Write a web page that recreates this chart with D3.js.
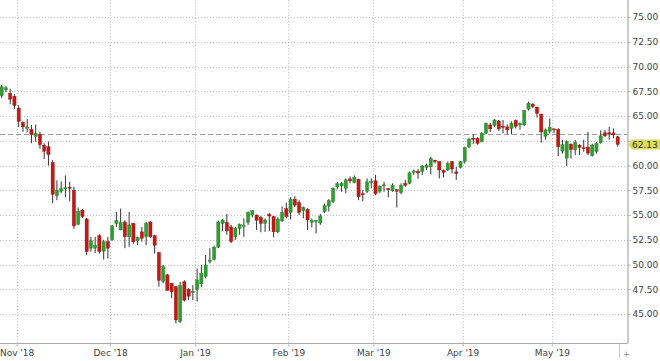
<!DOCTYPE html>
<html><head><meta charset="utf-8">
<script src="https://cdn.jsdelivr.net/npm/d3@7"></script>
<style>
html,body{margin:0;padding:0;background:#fff;}
svg{display:block;}
text{font-family:"DejaVu Sans",Verdana,sans-serif;}
</style></head>
<body><svg id="c" width="660" height="361"></svg>
<script>
const open = [67.05,67.65,67.3,67.0,65.8,64.35,63.75,63.65,62.95,63.15,62.05,61.9,60.3,56.95,57.4,57.7,57.8,57.5,54.05,55.5,54.6,51.65,51.65,52.9,51.35,52.3,52.5,54.15,53.5,54.3,52.8,54.15,52.4,53.3,52.8,54.3,52.9,51.2,48.3,48.95,48.1,47.75,44.25,48.25,47.5,47.15,47.45,48.05,48.8,50.3,50.5,51.75,54.15,54.25,53.8,52.8,53.65,53.85,54.25,55.0,55.0,54.75,54.15,55.05,54.85,53.3,54.4,55.65,55.25,56.6,56.25,55.45,55.55,54.25,54.35,54.2,55.35,55.9,56.35,57.85,57.95,57.7,58.65,58.3,58.6,57.15,57.4,58.35,58.45,57.4,58.0,57.65,57.45,57.55,57.25,58.2,58.2,59.3,59.4,59.4,59.8,59.9,60.55,60.4,59.5,59.55,60.4,59.35,59.8,60.4,61.9,62.75,62.75,62.4,63.25,64.1,64.05,64.5,63.95,63.9,63.75,64.55,64.1,64.1,65.7,66.2,65.9,65.2,62.95,63.45,63.7,63.65,61.45,60.75,62.15,61.6,62.05,61.8,61.85,61.0,61.4,62.3,63.3,63.3,63.3,62.9];
const high = [68.15,68.05,67.75,67.2,66.1,64.45,64.7,64.1,64.15,63.4,62.25,62.4,60.55,58.5,58.4,59.0,58.35,57.85,55.75,55.6,54.7,52.8,52.8,53.05,52.5,52.8,54.0,55.3,55.65,54.45,55.3,54.2,52.8,53.8,54.3,54.35,53.0,51.25,49.95,49.05,48.15,47.8,48.25,48.4,47.6,47.9,49.6,49.95,50.96,51.65,51.9,54.45,54.6,55.1,54.0,53.82,54.15,54.65,55.35,55.5,55.05,54.9,54.65,55.2,54.9,54.75,55.85,56.25,56.8,56.9,56.5,55.85,55.7,54.65,54.5,55.1,56.15,56.6,57.8,58.35,58.35,58.7,58.9,59.0,58.65,57.5,58.7,58.7,59.05,58.0,58.35,57.7,58.2,57.6,58.2,58.55,59.4,59.6,59.65,60.05,60.2,60.9,60.55,60.4,59.6,60.4,60.45,59.85,60.45,61.9,62.8,63.15,62.85,63.35,64.35,64.3,64.7,64.6,64.6,64.15,64.45,64.65,64.35,65.6,66.45,66.3,65.95,65.2,63.75,64.75,63.75,63.75,62.6,62.55,62.25,62.6,62.15,62.6,63.4,62.2,62.4,63.55,63.6,63.9,63.75,63.0];
const low = [66.8,67.4,66.2,65.7,63.9,63.4,63.35,62.25,62.4,61.7,60.65,60.0,56.2,56.5,57.2,56.8,56.4,53.6,54.0,54.7,50.95,51.3,51.15,51.1,50.5,50.6,52.4,53.8,53.45,51.65,51.8,52.1,51.97,52.3,51.97,52.65,51.1,47.75,48.1,47.35,46.6,44.05,44.1,46.25,46.4,46.4,46.25,47.75,48.6,50.1,50.4,51.65,53.35,53.0,52.15,52.48,53.0,52.8,54.0,54.75,53.5,53.25,53.3,53.35,52.75,53.15,54.3,54.65,54.55,55.8,55.0,54.66,53.5,53.75,53.15,54.0,55.2,55.35,56.2,57.6,57.35,57.2,58.2,58.2,56.5,56.4,57.2,57.7,57.0,57.2,57.35,56.8,57.35,55.75,57.1,57.85,58.1,59.05,58.65,59.05,59.55,59.1,60.2,58.7,58.8,59.45,59.2,58.55,59.7,60.2,61.75,62.15,62.1,62.35,63.15,63.4,63.9,63.5,63.25,63.15,63.15,63.75,63.6,64.0,65.55,65.8,64.85,62.3,62.6,63.25,63.25,60.95,61.2,59.95,60.7,61.05,61.05,61.4,61.05,60.9,61.2,62.2,62.85,62.6,62.75,61.9];
const close = [67.95,67.85,66.7,66.05,64.45,63.9,63.9,63.15,63.25,62.1,61.45,61.1,57.1,57.5,57.65,57.75,57.75,53.9,55.35,54.85,51.3,52.4,51.9,51.3,52.3,51.65,53.9,54.45,54.25,52.8,54.0,52.3,52.7,52.65,54.15,52.8,51.95,48.4,49.8,47.4,47.25,44.4,47.9,46.4,46.8,47.3,48.45,49.1,49.95,50.45,51.75,54.3,54.5,53.4,52.3,53.65,54.05,53.95,55.25,55.45,54.45,54.15,54.5,54.9,53.3,54.6,55.25,54.85,56.6,56.0,55.25,55.75,54.5,54.45,54.45,54.9,55.95,56.45,57.7,58.15,58.2,58.55,58.45,58.8,56.85,57.05,58.35,58.4,57.15,57.9,58.05,57.55,58.0,57.4,58.0,58.0,59.25,59.45,59.25,59.95,60.0,60.7,60.4,59.55,59.3,60.2,59.65,59.2,60.4,61.8,62.65,62.65,62.25,63.25,64.25,63.7,64.6,63.7,63.85,63.6,64.25,63.95,64.25,65.55,66.3,65.95,65.25,63.4,63.6,63.85,63.6,61.9,62.1,62.4,61.6,62.3,61.85,61.75,61.25,62.05,62.25,63.0,63.0,63.2,63.1,62.13];
const monthLabels = ["Nov '18","Dec '18","Jan '19","Feb '19","Mar '19","Apr '19","May '19"];
const monthStartIdx = [4,26,46,68,88,109,130];
const priceTicks = [45,47.5,50,52.5,55,57.5,60,62.5,65,67.5,70,72.5,75];
const refPrice = 63.18;
const lastPrice = 62.13;

const svg = d3.select("#c");
const W = 627.5, H = 343.5;
const N = close.length;
const x = d3.scaleLinear().domain([0, N-1]).range([1.7, 617.7]);
const y = d3.scaleLinear().domain([42.07, 76.72]).range([343, 0]);
const ly = y(lastPrice);

const grid = svg.append("g");
grid.selectAll("line.h").data(priceTicks).join("line")
  .attr("x1",0).attr("x2",W+3).attr("y1",d=>Math.round(y(d))+0.5).attr("y2",d=>Math.round(y(d))+0.5)
  .attr("stroke","#c4c4c4").attr("stroke-dasharray","1,2");
grid.selectAll("line.v").data(monthStartIdx).join("line")
  .attr("x1",d=>Math.round(x(d-0.5))+0.5).attr("x2",d=>Math.round(x(d-0.5))+0.5)
  .attr("y1",0).attr("y2",H+3)
  .attr("stroke","#c4c4c4").attr("stroke-dasharray","1,2");

// reference dashed line
svg.append("line").attr("x1",0).attr("x2",W)
  .attr("y1",Math.round(y(refPrice))+0.5).attr("y2",Math.round(y(refPrice))+0.5)
  .attr("stroke","#999").attr("stroke-dasharray","5,3");

// candles
const up = "#2f9e2f", dn = "#c01a16";
const idx = d3.range(N);
const cg = svg.append("g");
cg.selectAll("line.w").data(idx).join("line")
  .attr("x1",i=>x(i)).attr("x2",i=>x(i))
  .attr("y1",i=>y(high[i])).attr("y2",i=>y(low[i]))
  .attr("stroke","#333").attr("stroke-width",1);
cg.selectAll("rect").data(idx).join("rect")
  .attr("x",i=>x(i)-1.6).attr("width",3.2)
  .attr("y",i=>y(Math.max(open[i],close[i])))
  .attr("height",i=>Math.max(1,Math.abs(y(open[i])-y(close[i]))))
  .attr("fill",i=> close[i]>=open[i] ? up : dn)
  .attr("stroke",i=> close[i]>=open[i] ? "#23802a" : "#96120f").attr("stroke-width",0.4);

// axes
const yAxis = d3.axisRight(y).tickValues(priceTicks).tickFormat(d3.format(".2f")).tickSize(3).tickPadding(2);
const ya = svg.append("g").attr("transform",`translate(${W},0)`).call(yAxis);
ya.select(".domain").attr("stroke","#999").attr("d",`M0.5,0V${H}`);
ya.selectAll(".tick line").attr("stroke","#bbb");
ya.selectAll("text").attr("fill","#444").style("font-size","9px");
// tick label hidden behind the last-price marker
ya.selectAll(".tick").filter(d=>Math.abs(y(d)-ly)<9).select("text").remove();

const xAxis = d3.axisBottom(x).tickValues(monthStartIdx.map(d=>d-0.5))
  .tickFormat((d,i)=>monthLabels[i]).tickSize(3).tickPadding(3);
const xa = svg.append("g").attr("transform",`translate(0,${H})`).call(xAxis);
xa.select(".domain").attr("stroke","#aaa").attr("d",`M0,0H${W}`);
xa.selectAll(".tick line").attr("stroke","#bbb");
xa.selectAll("text").attr("fill","#444").style("font-size","9px");

// extra small marker at bottom right
svg.append("line").attr("x1",619.5).attr("x2",619.5).attr("y1",H).attr("y2",358).attr("stroke","#ccc");
svg.append("text").attr("x",623).attr("y",357).attr("fill","#888").style("font-size","8px").text("+");

// last price label
svg.append("path")
  .attr("d",`M${W+1},${ly} L${W+4},${ly-5} L660,${ly-5} L660,${ly+5} L${W+4},${ly+5} Z`)
  .attr("fill","#dcdc5a");
svg.append("text").attr("x",W+4.5).attr("y",ly).attr("dy","0.35em")
  .attr("fill","#333").style("font-size","9px").text(d3.format(".2f")(lastPrice));
</script></body></html>
